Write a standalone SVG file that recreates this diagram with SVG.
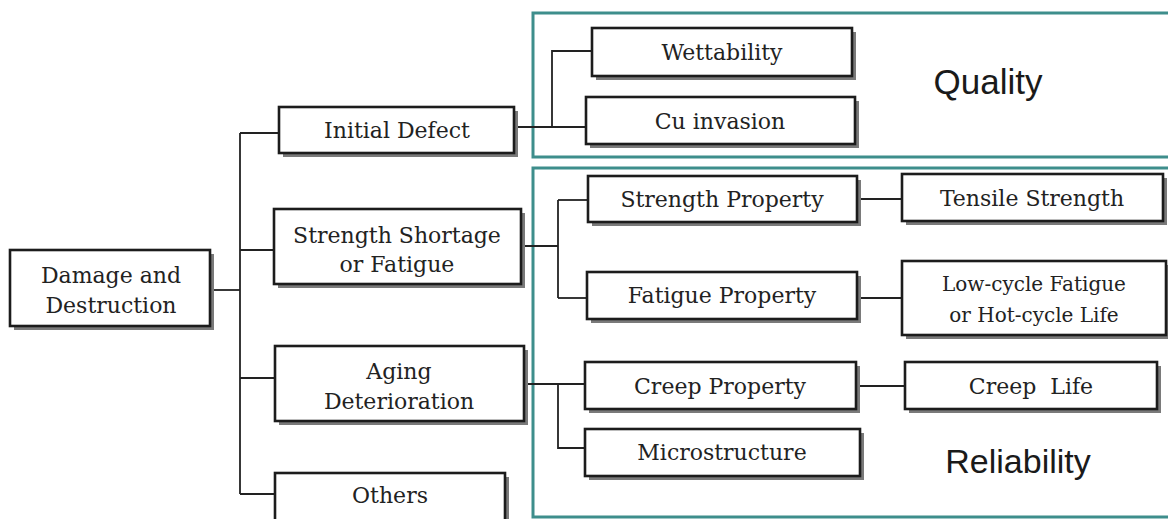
<svg xmlns="http://www.w3.org/2000/svg" width="1168" height="519" viewBox="0 0 1168 519">
  <style>
    .sh { fill: #7a7a7a; }
    .bx { fill: #ffffff; stroke: #1c1c1c; stroke-width: 2.6; }
    .t { font-family: "DejaVu Serif", "Liberation Serif", serif; font-size: 22px; fill: #222222; text-anchor: middle; }
    .ts { font-size: 20px; }
    .lbl { font-family: "Liberation Sans", Arial, sans-serif; fill: #1a1a1a; text-anchor: middle; }
    .frame { fill: none; stroke: #3e8e8c; stroke-width: 3; }
    .cn { fill: none; stroke: #222222; stroke-width: 1.8; }
  </style>
  <rect width="1168" height="519" fill="#ffffff"/>

  <g id="frames">
    <path class="frame" d="M1170,13 H533 V157 H1170"/>
    <path class="frame" d="M1170,168 H533 V517 H1170"/>
  </g>

  <g id="connectors">
    <path class="cn" d="M210,290 H240"/>
    <path class="cn" d="M240,133 V494"/>
    <path class="cn" d="M240,133 H279"/>
    <path class="cn" d="M240,250 H274"/>
    <path class="cn" d="M240,378 H275"/>
    <path class="cn" d="M240,494 H275"/>
    <path class="cn" d="M514,127 H586"/>
    <path class="cn" d="M552,127 V51 H592"/>
    <path class="cn" d="M521,246 H558"/>
    <path class="cn" d="M558,200 V298"/>
    <path class="cn" d="M558,200 H588"/>
    <path class="cn" d="M558,298 H587"/>
    <path class="cn" d="M524,384 H585"/>
    <path class="cn" d="M558,384 V448 H585"/>
    <path class="cn" d="M857,199 H902"/>
    <path class="cn" d="M857,298 H902"/>
    <path class="cn" d="M856,386 H905"/>
  </g>

  <g id="n-damage">
    <rect class="sh" x="14" y="254" width="200" height="76"/>
    <rect class="bx" x="10" y="250" width="200" height="76"/>
    <text class="t" x="111" y="283">Damage and</text>
    <text class="t" x="111" y="313">Destruction</text>
  </g>

  <g id="n-initial">
    <rect class="sh" x="283" y="111" width="235" height="46"/>
    <rect class="bx" x="279" y="107" width="235" height="46"/>
    <text class="t" x="397" y="138">Initial Defect</text>
  </g>

  <g id="n-strength">
    <rect class="sh" x="278" y="213" width="247" height="75"/>
    <rect class="bx" x="274" y="209" width="247" height="75"/>
    <text class="t" x="397" y="243">Strength Shortage</text>
    <text class="t" x="397" y="272">or Fatigue</text>
  </g>

  <g id="n-aging">
    <rect class="sh" x="279" y="350" width="249" height="75"/>
    <rect class="bx" x="275" y="346" width="249" height="75"/>
    <text class="t" x="399" y="379">Aging</text>
    <text class="t" x="399" y="409">Deterioration</text>
  </g>

  <g id="n-others">
    <rect class="sh" x="279" y="477" width="230" height="50"/>
    <rect class="bx" x="275" y="473" width="230" height="50"/>
    <text class="t" x="390" y="503">Others</text>
  </g>

  <g id="n-wettability">
    <rect class="sh" x="596" y="32" width="260" height="48"/>
    <rect class="bx" x="592" y="28" width="260" height="48"/>
    <text class="t" x="722" y="60">Wettability</text>
  </g>

  <g id="n-cu">
    <rect class="sh" x="590" y="101" width="269" height="47"/>
    <rect class="bx" x="586" y="97" width="269" height="47"/>
    <text class="t" x="720" y="129">Cu invasion</text>
  </g>

  <g id="n-strprop">
    <rect class="sh" x="592" y="180" width="269" height="46"/>
    <rect class="bx" x="588" y="176" width="269" height="46"/>
    <text class="t" x="722" y="207">Strength Property</text>
  </g>

  <g id="n-tensile">
    <rect class="sh" x="906" y="178" width="261" height="47"/>
    <rect class="bx" x="902" y="174" width="261" height="47"/>
    <text class="t" x="1032" y="206">Tensile Strength</text>
  </g>

  <g id="n-fatprop">
    <rect class="sh" x="591" y="276" width="270" height="47"/>
    <rect class="bx" x="587" y="272" width="270" height="47"/>
    <text class="t" x="722" y="303">Fatigue Property</text>
  </g>

  <g id="n-lowcycle">
    <rect class="sh" x="906" y="265" width="264" height="74"/>
    <rect class="bx" x="902" y="261" width="264" height="74"/>
    <text class="t ts" x="1034" y="291">Low-cycle Fatigue</text>
    <text class="t ts" x="1034" y="322">or Hot-cycle Life</text>
  </g>

  <g id="n-creep">
    <rect class="sh" x="589" y="366" width="271" height="47"/>
    <rect class="bx" x="585" y="362" width="271" height="47"/>
    <text class="t" x="720" y="394">Creep Property</text>
  </g>

  <g id="n-creeplife">
    <rect class="sh" x="909" y="366" width="252" height="47"/>
    <rect class="bx" x="905" y="362" width="252" height="47"/>
    <text class="t" x="1031" y="394" xml:space="preserve">Creep  Life</text>
  </g>

  <g id="n-micro">
    <rect class="sh" x="589" y="433" width="275" height="47"/>
    <rect class="bx" x="585" y="429" width="275" height="47"/>
    <text class="t" x="722" y="460">Microstructure</text>
  </g>

  <g id="labels">
    <text class="lbl" x="988" y="94" font-size="35">Quality</text>
    <text class="lbl" x="1018" y="473" font-size="34">Reliability</text>
  </g>
</svg>
